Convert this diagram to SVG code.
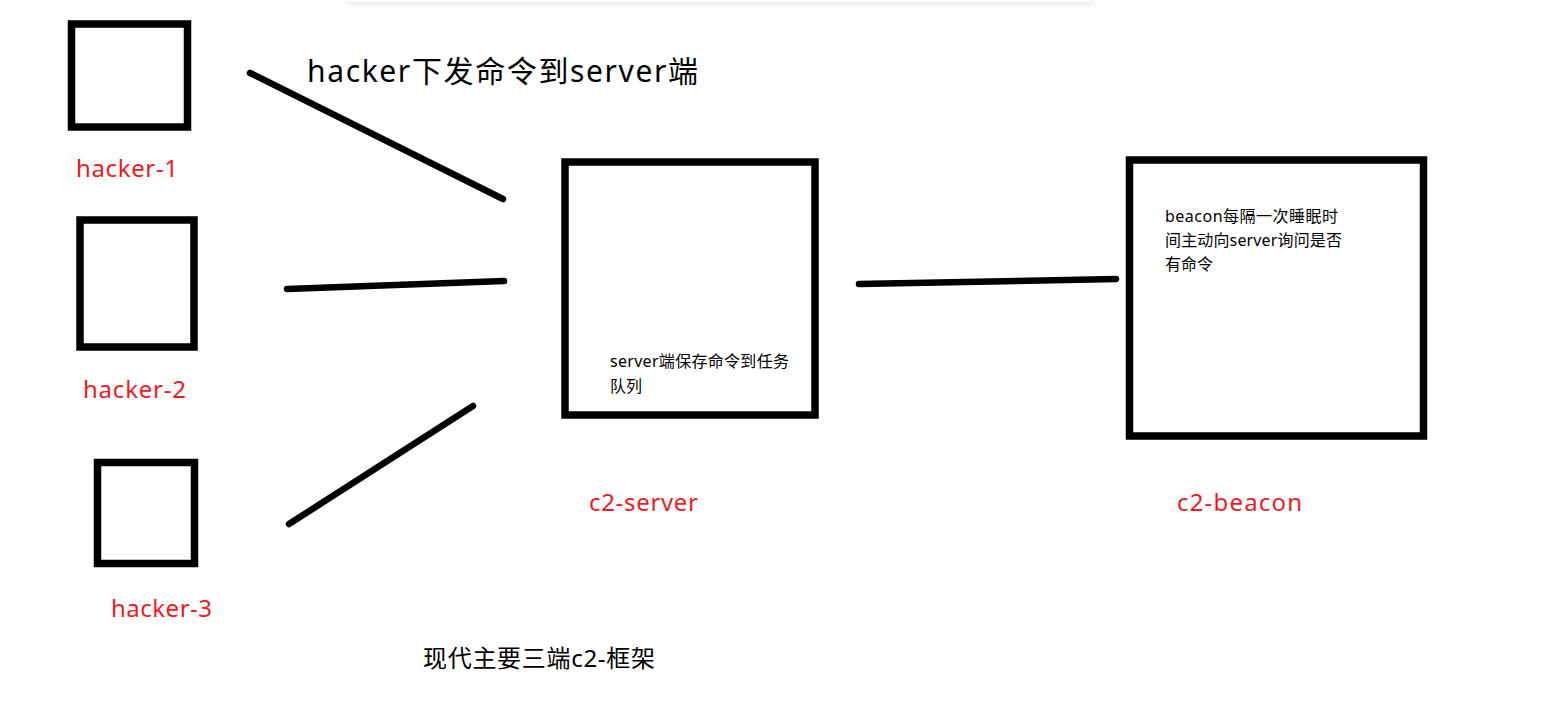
<svg xmlns="http://www.w3.org/2000/svg" width="1550" height="728" viewBox="0 0 1550 728">
<defs>
<style>
.box{fill:#fff;stroke:#000;stroke-width:7.5}
.lbl{fill:#ed1c24;font-family:"Noto Sans","Noto Sans CJK SC",sans-serif;font-size:24px}
.txt{fill:#000;font-family:"Noto Sans","Noto Sans CJK SC",sans-serif}
.small{font-size:16px}
.wire{stroke:#000;stroke-width:6.5;stroke-linecap:round;fill:none}
</style>
<filter id="sh" x="-5%" y="-50%" width="110%" height="200%">
<feDropShadow dx="0" dy="2" stdDeviation="2.5" flood-color="#000" flood-opacity="0.12"/>
</filter>
</defs>
<rect width="1550" height="728" fill="#fff"/>
<rect x="346" y="-30" width="747" height="32" rx="6" fill="#fff" filter="url(#sh)"/>

<g id="title">
<text class="txt" x="307" y="82" font-size="30" textLength="391">hacker下发命令到server端</text>
</g>

<g id="hacker-1">
<rect class="box" x="71.5" y="24" width="116" height="103"/>
<text class="lbl" x="76" y="177" textLength="102">hacker-1</text>
</g>
<g id="hacker-2">
<rect class="box" x="80" y="220" width="114" height="127"/>
<text class="lbl" x="83" y="398" textLength="103">hacker-2</text>
</g>
<g id="hacker-3">
<rect class="box" x="97.5" y="462.5" width="97" height="101"/>
<text class="lbl" x="111" y="617" textLength="101">hacker-3</text>
</g>
<g id="c2-server">
<rect class="box" x="565" y="162" width="250" height="253"/>
<text class="txt small" x="610" y="367" textLength="179">server端保存命令到任务</text>
<text class="txt small" x="610" y="392">队列</text>
<text class="lbl" x="589" y="511" textLength="109">c2-server</text>
</g>
<g id="c2-beacon">
<rect class="box" x="1129.5" y="160" width="294" height="276"/>
<text class="txt small" x="1165" y="222" textLength="173">beacon每隔一次睡眠时</text>
<text class="txt small" x="1165" y="246" textLength="177">间主动向server询问是否</text>
<text class="txt small" x="1165" y="270">有命令</text>
<text class="lbl" x="1177" y="511" textLength="125">c2-beacon</text>
</g>
<g id="caption">
<text class="txt" x="423" y="667" font-size="24" textLength="232">现代主要三端c2-框架</text>
</g>

<g id="connectors">
<line class="wire" x1="250" y1="73" x2="503" y2="199"/>
<line class="wire" x1="287" y1="289" x2="504" y2="281"/>
<line class="wire" x1="289" y1="524" x2="473" y2="406"/>
<line class="wire" x1="859" y1="284" x2="1116" y2="279"/>
</g>
</svg>
